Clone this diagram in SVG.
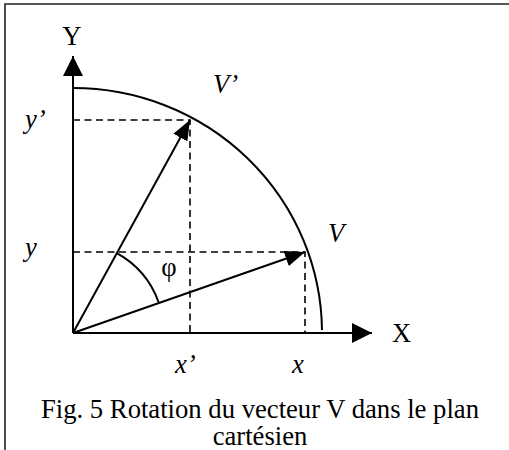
<svg xmlns="http://www.w3.org/2000/svg" width="509" height="450" viewBox="0 0 509 450">
  <style>
    .ln { fill: none; stroke: #000; stroke-width: 2; }
    .dash { fill: none; stroke: #000; stroke-width: 1.6; stroke-dasharray: 7 4.5; }
    .t { font-family: "Liberation Serif", "Times New Roman", serif; font-size: 26.67px; fill: #000; }
    .i { font-style: italic; }
  </style>
  <defs>
    <marker id="axarrow" viewBox="0 0 20 20" refX="20" refY="10" markerWidth="20" markerHeight="20" markerUnits="userSpaceOnUse" orient="auto">
      <path d="M0,0 L20,10 L0,20 Z" fill="#000"/>
    </marker>
    <marker id="vecarrow" viewBox="0 0 20 16" refX="20" refY="8" markerWidth="20" markerHeight="16" markerUnits="userSpaceOnUse" orient="auto">
      <path d="M0,0 L20,8 L0,16 Z" fill="#000"/>
    </marker>
  </defs>
  <rect width="509" height="450" fill="#fff"/>
  <g id="frame">
    <path d="M5,450 L5,4 L509,4" fill="none" stroke="#222" stroke-width="1.6"/>
  </g>
  <g id="circle-arc">
    <path class="ln" d="M73,88 A249,245 0 0 1 322,330" stroke-width="1.8"/>
  </g>
  <g id="connectors">
    <line id="y-axis" class="ln" x1="73" y1="333" x2="73" y2="56" marker-end="url(#axarrow)"/>
    <line id="x-axis" class="ln" x1="73" y1="333" x2="372" y2="333" marker-end="url(#axarrow)"/>
    <path class="dash" d="M73,120 H190 V333"/>
    <path class="dash" d="M73,252 H305 V333"/>
    <line id="vec-vprime" class="ln" x1="73" y1="333" x2="190" y2="120" marker-end="url(#vecarrow)"/>
    <line id="vec-v" class="ln" x1="73" y1="333" x2="305" y2="252" marker-end="url(#vecarrow)"/>
    <path id="angle-phi" class="ln" d="M116.8,253.2 A91,91 0 0 1 158.5,302" stroke-width="1.8"/>
  </g>
  <g id="labels">
    <text class="t" x="72" y="45" text-anchor="middle">Y</text>
    <text class="t" x="392" y="342">X</text>
    <text class="t i" x="213" y="93">V’</text>
    <text class="t i" x="328" y="242">V</text>
    <text class="t i" x="25" y="128">y’</text>
    <text class="t i" x="25" y="256">y</text>
    <text class="t i" x="175" y="373">x’</text>
    <text class="t i" x="292" y="373">x</text>
    <text class="t" x="169" y="276" text-anchor="middle">φ</text>
    <text id="caption" class="t" text-anchor="middle"><tspan x="260" y="418">Fig. 5 Rotation du vecteur V dans le plan</tspan><tspan x="260" y="445">cartésien</tspan></text>
  </g>
</svg>
